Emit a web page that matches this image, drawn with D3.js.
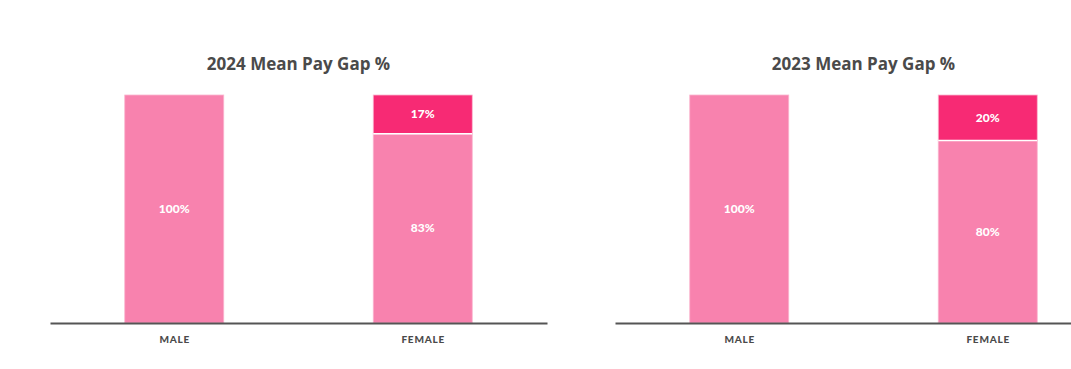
<!DOCTYPE html>
<html><head><meta charset="utf-8">
<script src="https://cdn.jsdelivr.net/npm/d3@7"></script>
<style>body{margin:0;background:#fff;} svg{display:block;}</style>
</head><body>
<svg id="chart" width="1071" height="369"></svg>
<script>
const categories = ["MALE", "FEMALE"];
const titles = ["2024 Mean Pay Gap %", "2023 Mean Pay Gap %"];
// base (pay relative to male) and gap segments per chart
const base2024 = [100, 83];
const gap2024 = [0, 17];
const base2023 = [100, 80];
const gap2023 = [0, 20];
const panels = [
  {title: titles[0], base: base2024, gap: gap2024},
  {title: titles[1], base: base2023, gap: gap2023}
];

(function () {
const svg = d3.select("#chart");
const font = "Lato, 'Open Sans', sans-serif";
const titleFont = "'Open Sans', Lato, sans-serif";
const panelX = [50, 615];
const panelW = 497;
const plotTop = 95, plotBottom = 323;
const barW = 99;
const light = "#F882AE", dark = "#F72A74";

const y = d3.scaleLinear().domain([0, 100]).range([plotBottom, plotTop]);

panels.forEach((p, i) => {
  const g = svg.append("g");
  const x = d3.scalePoint().domain(categories).range([panelX[i], panelX[i] + panelW]).padding(0.5);

  g.append("text").attr("x", panelX[i] + panelW / 2).attr("y", 70)
    .attr("text-anchor", "middle").attr("font-family", titleFont).attr("font-weight", 700)
    .attr("font-size", 17).attr("fill", "#4a4a4a").text(p.title);

  categories.forEach((c, j) => {
    const cx = x(c);
    g.append("rect").attr("x", cx - barW / 2).attr("y", y(p.base[j]))
      .attr("width", barW).attr("height", y(0) - y(p.base[j]))
      .attr("fill", light).attr("stroke", "#fbb6cf").attr("stroke-width", 0.8);
    g.append("text").attr("x", cx).attr("y", (y(p.base[j]) + y(0)) / 2 + 4)
      .attr("text-anchor", "middle").attr("font-family", font).attr("font-weight", 900)
      .attr("font-size", 12).attr("fill", "#fff").text(p.base[j] + "%");
    if (p.gap[j] > 0) {
      const y0 = y(p.base[j] + p.gap[j]), y1 = y(p.base[j]);
      g.append("rect").attr("x", cx - barW / 2).attr("y", y0)
        .attr("width", barW).attr("height", y1 - y0)
        .attr("fill", dark).attr("stroke", "#fbb6cf").attr("stroke-width", 0.8);
      g.append("line").attr("x1", cx - barW / 2).attr("x2", cx + barW / 2)
        .attr("y1", y1).attr("y2", y1).attr("stroke", "#fff").attr("stroke-width", 1.5);
      g.append("text").attr("x", cx).attr("y", (y0 + y1) / 2 + 4)
        .attr("text-anchor", "middle").attr("font-family", font).attr("font-weight", 900)
        .attr("font-size", 12).attr("fill", "#fff").text(p.gap[j] + "%");
    }
  });

  const axis = g.append("g").attr("transform", `translate(0,${plotBottom})`)
    .call(d3.axisBottom(x).tickSize(0).tickPadding(13));
  axis.select(".domain").attr("stroke", "#555").attr("stroke-width", 2);
  axis.selectAll("text").attr("font-family", font).attr("font-weight", 900)
    .attr("font-size", 10).attr("fill", "#4a4a4a").attr("letter-spacing", 0.8);
});
})();
</script>
</body></html>
